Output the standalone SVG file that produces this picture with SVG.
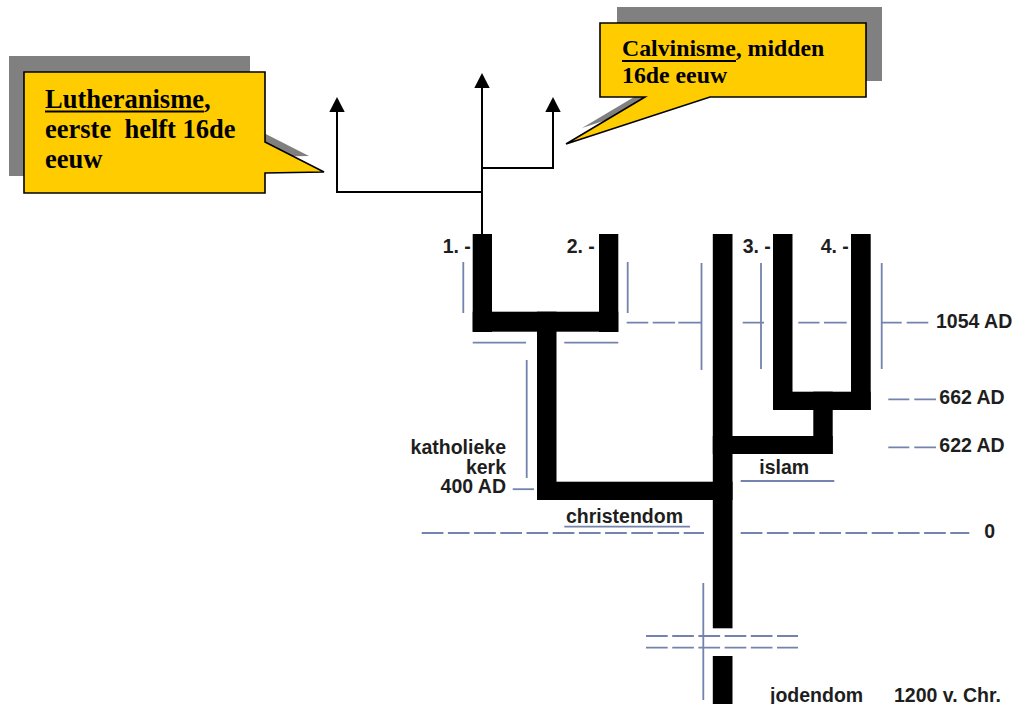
<svg xmlns="http://www.w3.org/2000/svg" width="1015" height="704" viewBox="0 0 1015 704">
  <style>
    .shadow { fill: #808080; }
    .callout { fill: #ffcc00; stroke: #000; stroke-width: 1.6; stroke-linejoin: miter; }
    .serif { font-family: "Liberation Serif", "Times New Roman", serif; font-weight: bold; fill: #000; }
    .lbl { font-family: "Liberation Sans", Arial, sans-serif; font-weight: bold; font-size: 19.5px; fill: #1e1e1e; }
    .bar { fill: #000; }
    .guide { stroke: #7383ad; stroke-width: 1.8; fill: none; }
    .dash { stroke-dasharray: 21.7 4.5; }
    .conn { stroke: #000; stroke-width: 2; fill: none; }
    .ul { stroke: #000; stroke-width: 2; }
  </style>
  <defs>
    <marker id="arrow" markerUnits="userSpaceOnUse" markerWidth="16" markerHeight="16" refX="0" refY="7.7" orient="auto">
      <path d="M0,0 L15,7.7 L0,15.4 z" fill="#000"/>
    </marker>
  </defs>
  <rect width="1015" height="704" fill="#fff"/>

  <!-- Callout: Lutheranisme -->
  <g id="callout-lutheranisme">
    <path class="shadow" d="M9,56 H250 V126 L309,156 L250,157 V176 H9 Z"/>
    <path class="callout" d="M24,72 H265 V142 L324,172 L265,173 V193 H24 Z"/>
    <text class="serif" font-size="26.5" x="45" y="108">Lutheranisme,</text>
    <line class="ul" x1="45" y1="111.5" x2="204" y2="111.5"/>
    <text class="serif" font-size="26.5" x="45" y="138" xml:space="preserve">eerste  helft 16de</text>
    <text class="serif" font-size="26.5" x="45" y="168">eeuw</text>
  </g>

  <!-- Callout: Calvinisme -->
  <g id="callout-calvinisme">
    <path class="shadow" d="M617,7 H882 V81 H726 L582,128 L661,81 H617 Z"/>
    <path class="callout" d="M600,23 H866 V97 H710 L566,144 L645,97 H600 Z"/>
    <text class="serif" font-size="23.8" x="622" y="56">Calvinisme, midden</text>
    <line class="ul" x1="622" y1="61" x2="736" y2="61"/>
    <text class="serif" font-size="23.8" x="622" y="83">16de eeuw</text>
  </g>

  <!-- Connectors (arrows) -->
  <g id="connectors">
    <path class="conn" d="M482,237 V88" marker-end="url(#arrow)"/>
    <path class="conn" d="M482,192 H337 V112" marker-end="url(#arrow)"/>
    <path class="conn" d="M482,168 H553 V112" marker-end="url(#arrow)"/>
  </g>

  <!-- Guide lines -->
  <g id="guides">
    <line class="guide" x1="463.3" y1="262" x2="463.3" y2="313"/>
    <line class="guide" x1="627.7" y1="262" x2="627.7" y2="313"/>
    <line class="guide" x1="701.5" y1="263" x2="701.5" y2="370"/>
    <line class="guide" x1="761" y1="263" x2="761" y2="369"/>
    <line class="guide" x1="881.7" y1="263" x2="881.7" y2="369"/>
    <path class="guide" d="M626.7,322.7 H648.3 M652.7,322.7 H675 M678.3,322.7 H701.5 M742.7,322.7 H764 M798.3,322.7 H819.5 M824,322.7 H846.7 M881.7,322.7 H901.7 M906.7,322.7 H928.3"/>
    <line class="guide" x1="472.7" y1="342.7" x2="526" y2="342.7"/>
    <line class="guide" x1="564.3" y1="342.7" x2="618.3" y2="342.7"/>
    <line class="guide" x1="526.7" y1="360" x2="526.7" y2="478"/>
    <line class="guide" x1="512.7" y1="489.2" x2="534" y2="489.2"/>
    <path class="guide" d="M888.3,399.3 H909.3 M914.3,399.3 H936 M888.3,447.3 H909.3 M914.3,447.3 H936"/>
    <line class="guide" x1="740.7" y1="481" x2="834.3" y2="481"/>
    <line class="guide" x1="564.3" y1="526.7" x2="690" y2="526.7"/>
    <line class="guide dash" x1="421.7" y1="533" x2="704" y2="533"/>
    <line class="guide dash" x1="740.7" y1="533" x2="969.3" y2="533"/>
    <line class="guide" x1="703.3" y1="583" x2="703.3" y2="700"/>
    <line class="guide dash" x1="646" y1="636" x2="798" y2="636"/>
    <line class="guide dash" x1="646" y1="647.7" x2="798" y2="647.7"/>
  </g>

  <!-- Tree branches -->
  <g id="tree">
    <rect class="bar" x="472.7" y="234" width="19.3" height="98"/>
    <rect class="bar" x="472.7" y="311.7" width="145.6" height="20"/>
    <rect class="bar" x="599" y="234" width="19.3" height="98"/>
    <rect class="bar" x="537" y="311.7" width="19.5" height="188.3"/>
    <rect class="bar" x="537" y="481.7" width="195.5" height="18.3"/>
    <rect class="bar" x="712.8" y="234" width="19.7" height="394.3"/>
    <rect class="bar" x="712.8" y="656" width="19.7" height="48"/>
    <rect class="bar" x="773" y="234" width="19.5" height="176"/>
    <rect class="bar" x="851" y="234" width="19.7" height="176"/>
    <rect class="bar" x="773" y="391.7" width="97.7" height="18.3"/>
    <rect class="bar" x="813.3" y="391.7" width="19.4" height="62.3"/>
    <rect class="bar" x="712.8" y="436" width="119.9" height="18"/>
  </g>

  <!-- Labels -->
  <g id="labels">
    <text class="lbl" x="442.7" y="253">1. -</text>
    <text class="lbl" x="566.7" y="253">2. -</text>
    <text class="lbl" x="742.7" y="253">3. -</text>
    <text class="lbl" x="820.7" y="253">4. -</text>
    <text class="lbl" x="936" y="328.3">1054 AD</text>
    <text class="lbl" x="939.3" y="404.3">662 AD</text>
    <text class="lbl" x="939.3" y="451.7">622 AD</text>
    <text class="lbl" x="984.3" y="537.7">0</text>
    <text class="lbl" x="759.3" y="474.3">islam</text>
    <text class="lbl" x="506" y="454.3" text-anchor="end">katholieke</text>
    <text class="lbl" x="506" y="474" text-anchor="end">kerk</text>
    <text class="lbl" x="506" y="493.3" text-anchor="end">400 AD</text>
    <text class="lbl" x="566" y="522.7">christendom</text>
    <text class="lbl" x="770" y="702">jodendom</text>
    <text class="lbl" x="894" y="702">1200 v. Chr.</text>
  </g>
</svg>
